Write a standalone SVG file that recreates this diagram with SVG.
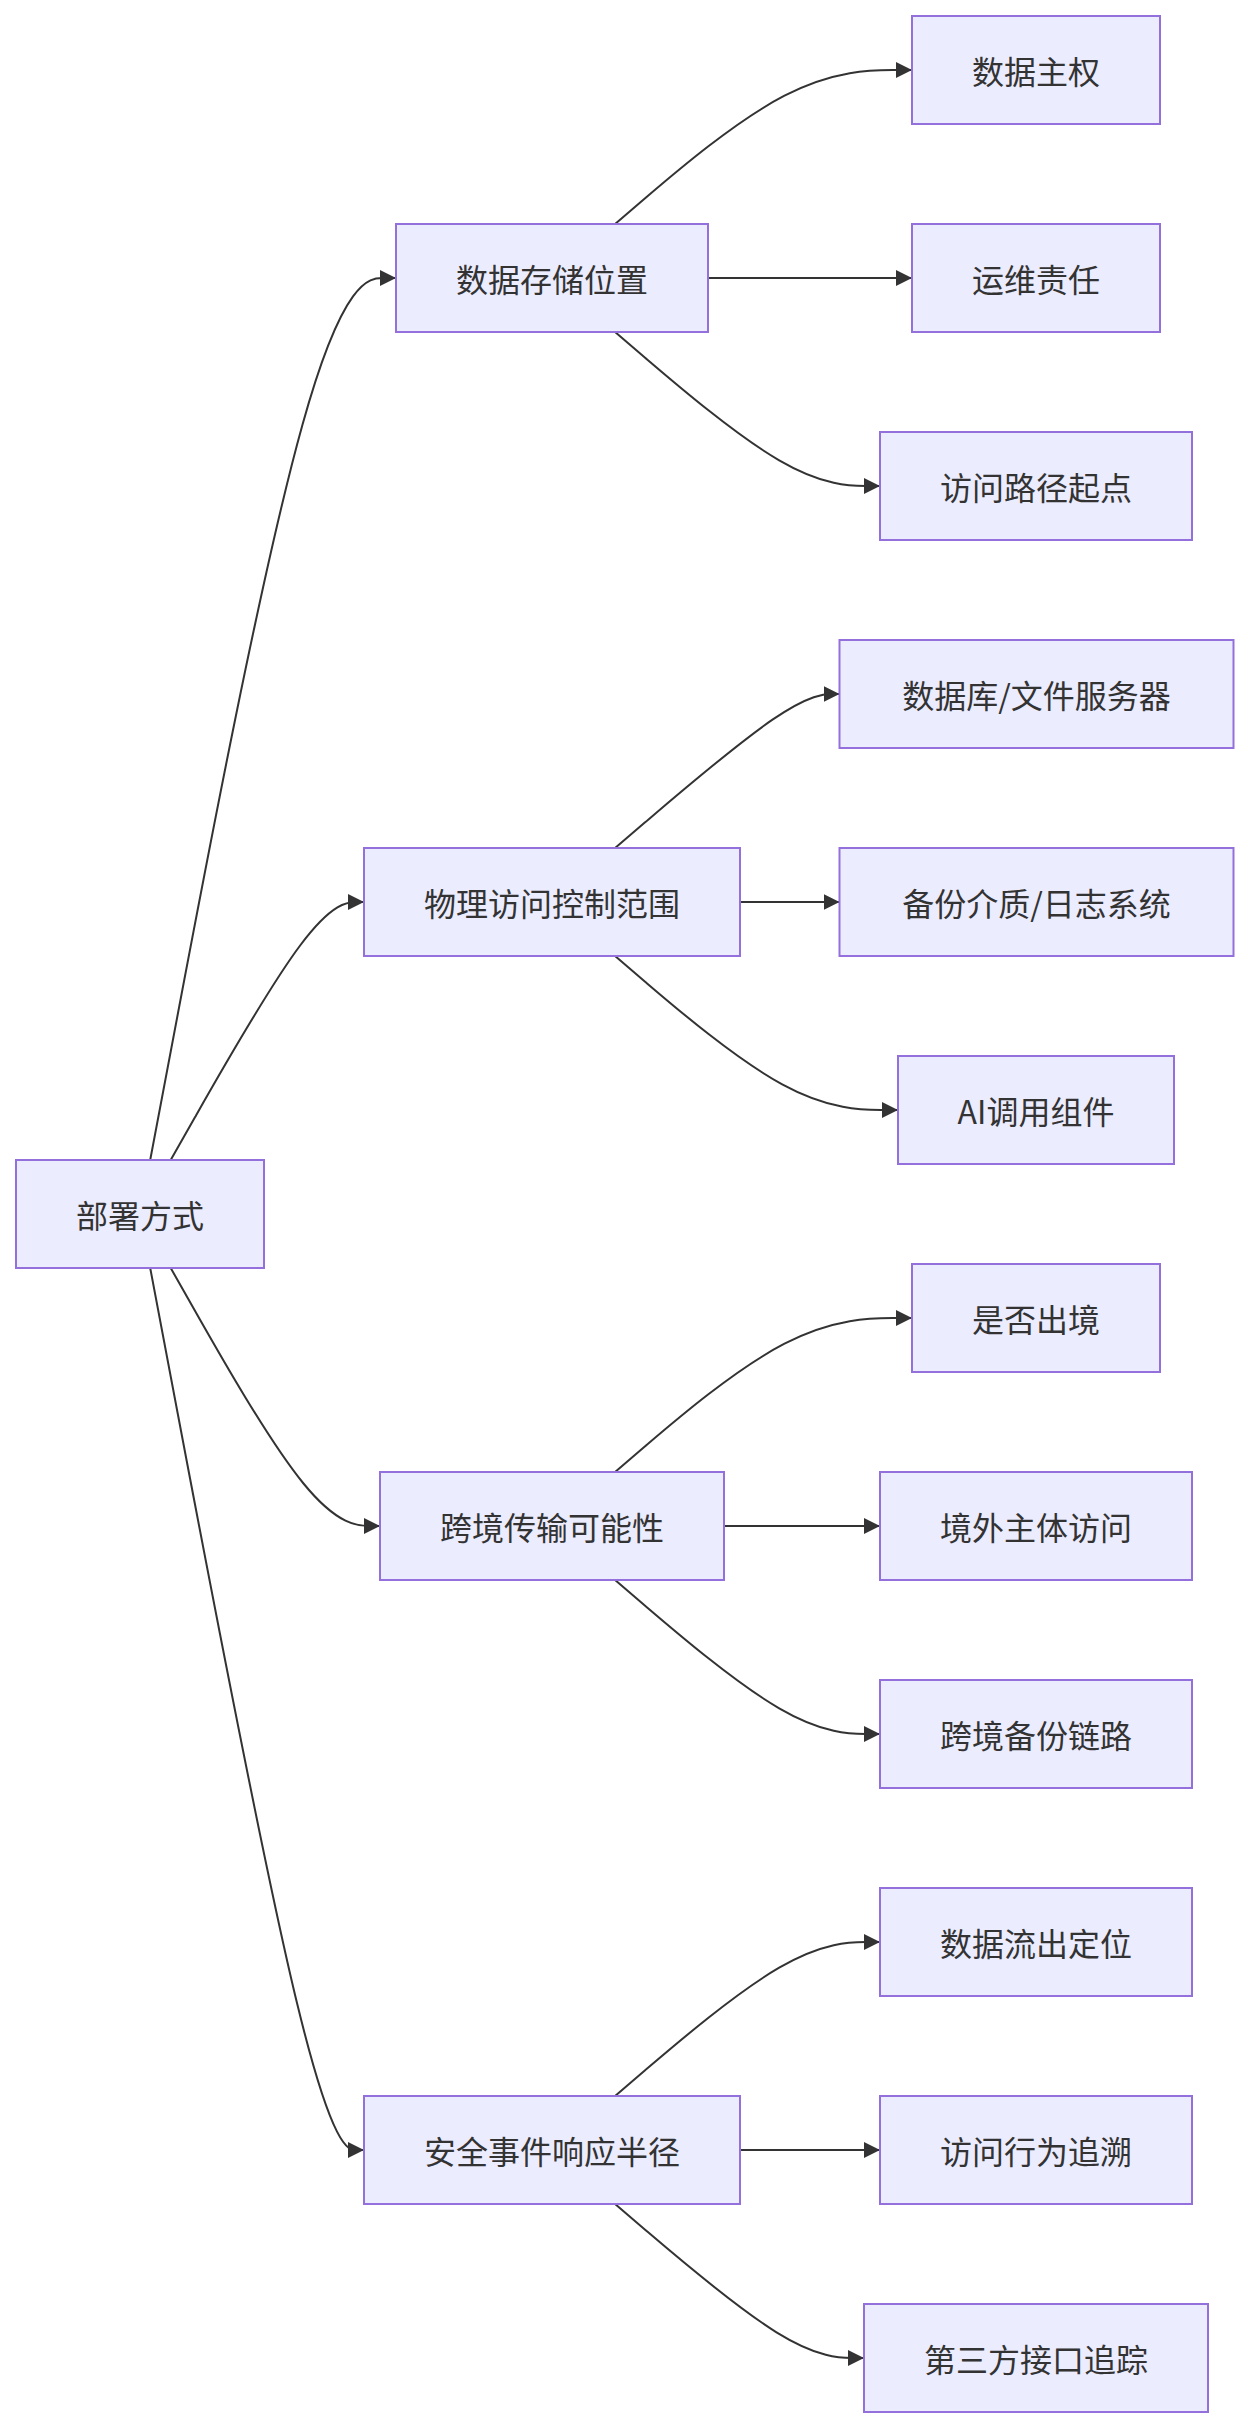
<svg xmlns="http://www.w3.org/2000/svg" width="1248" height="2428" viewBox="0 0 1248 2428">
<style>
.node rect{fill:#ECECFF;stroke:#9370DB;stroke-width:2}
.node text{font-family:"Noto Sans CJK SC","Noto Sans",sans-serif;font-size:32px;fill:#333333;text-anchor:middle;dominant-baseline:central}
.edges path{fill:none;stroke:#333333;stroke-width:2;marker-end:url(#arrow)}
</style>
<defs>
<marker id="arrow" viewBox="0 0 10 10" refX="10" refY="5" markerUnits="userSpaceOnUse" markerWidth="16" markerHeight="16" orient="auto">
<path d="M0,0 L10,5 L0,10 z" fill="#333333"/>
</marker>
</defs>
<rect width="1248" height="2428" fill="#ffffff"/>
<g class="edges">
<path d="M150.2,1160 L178,1013 C205.8,866 261.4,572 302.4,425 C343.3,278 369.7,278 382.8,278 L396,278"/>
<path d="M170.7,1160 L195.1,1117 C219.5,1074 268.2,988 300.5,945 C332.7,902 348.3,902 356.2,902 L364,902"/>
<path d="M170.7,1268 L195.1,1311 C219.5,1354 268.2,1440 303.1,1483 C338,1526 359,1526 369.5,1526 L380,1526"/>
<path d="M150.2,1268 L178,1415 C205.8,1562 261.4,1856 297,2003 C332.7,2150 348.3,2150 356.2,2150 L364,2150"/>
<path d="M615.1,224 L645.1,198.3 C675.1,172.7 735,121.3 784.5,95.7 C834,70 873,70 892.5,70 L912,70"/>
<path d="M708,278 L912,278"/>
<path d="M615.1,332 L645.1,357.7 C675.1,383.3 735,434.7 779.2,460.3 C823.3,486 851.7,486 865.8,486 L880,486"/>
<path d="M615.1,848 L645.1,822.3 C675.1,796.7 735,745.3 772.5,719.7 C810,694 825,694 832.5,694 L839.5,694"/>
<path d="M740,902 L839.5,902"/>
<path d="M615.1,956 L645.1,981.7 C675.1,1007.3 735,1058.7 782.2,1084.3 C829.3,1110 863.7,1110 880.8,1110 L898,1110"/>
<path d="M615.1,1472 L645.1,1446.3 C675.1,1420.7 735,1369.3 784.5,1343.7 C834,1318 873,1318 892.5,1318 L912,1318"/>
<path d="M724,1526 L880,1526"/>
<path d="M615.1,1580 L645.1,1605.7 C675.1,1631.3 735,1682.7 779.2,1708.3 C823.3,1734 851.7,1734 865.8,1734 L880,1734"/>
<path d="M615.1,2096 L645.1,2070.3 C675.1,2044.7 735,1993.3 779.2,1967.7 C823.3,1942 851.7,1942 865.8,1942 L880,1942"/>
<path d="M740,2150 L880,2150"/>
<path d="M615.1,2204 L645.1,2229.7 C675.1,2255.3 735,2306.7 776.5,2332.3 C818,2358 841,2358 852.5,2358 L864,2358"/>
</g>
<g id="root" class="node"><rect x="16" y="1160" width="248" height="108"/><text x="140" y="1214">部署方式</text></g>
<g id="g1" class="node"><rect x="396" y="224" width="312" height="108"/><text x="552" y="278">数据存储位置</text></g>
<g id="c1a" class="node"><rect x="912" y="16" width="248" height="108"/><text x="1036" y="70">数据主权</text></g>
<g id="c1b" class="node"><rect x="912" y="224" width="248" height="108"/><text x="1036" y="278">运维责任</text></g>
<g id="c1c" class="node"><rect x="880" y="432" width="312" height="108"/><text x="1036" y="486">访问路径起点</text></g>
<g id="g2" class="node"><rect x="364" y="848" width="376" height="108"/><text x="552" y="902">物理访问控制范围</text></g>
<g id="c2a" class="node"><rect x="839.5" y="640" width="394" height="108"/><text x="1036.5" y="694">数据库/文件服务器</text></g>
<g id="c2b" class="node"><rect x="839.5" y="848" width="394" height="108"/><text x="1036.5" y="902">备份介质/日志系统</text></g>
<g id="c2c" class="node"><rect x="898" y="1056" width="276" height="108"/><text x="1036" y="1110">AI调用组件</text></g>
<g id="g3" class="node"><rect x="380" y="1472" width="344" height="108"/><text x="552" y="1526">跨境传输可能性</text></g>
<g id="c3a" class="node"><rect x="912" y="1264" width="248" height="108"/><text x="1036" y="1318">是否出境</text></g>
<g id="c3b" class="node"><rect x="880" y="1472" width="312" height="108"/><text x="1036" y="1526">境外主体访问</text></g>
<g id="c3c" class="node"><rect x="880" y="1680" width="312" height="108"/><text x="1036" y="1734">跨境备份链路</text></g>
<g id="g4" class="node"><rect x="364" y="2096" width="376" height="108"/><text x="552" y="2150">安全事件响应半径</text></g>
<g id="c4a" class="node"><rect x="880" y="1888" width="312" height="108"/><text x="1036" y="1942">数据流出定位</text></g>
<g id="c4b" class="node"><rect x="880" y="2096" width="312" height="108"/><text x="1036" y="2150">访问行为追溯</text></g>
<g id="c4c" class="node"><rect x="864" y="2304" width="344" height="108"/><text x="1036" y="2358">第三方接口追踪</text></g>
</svg>
